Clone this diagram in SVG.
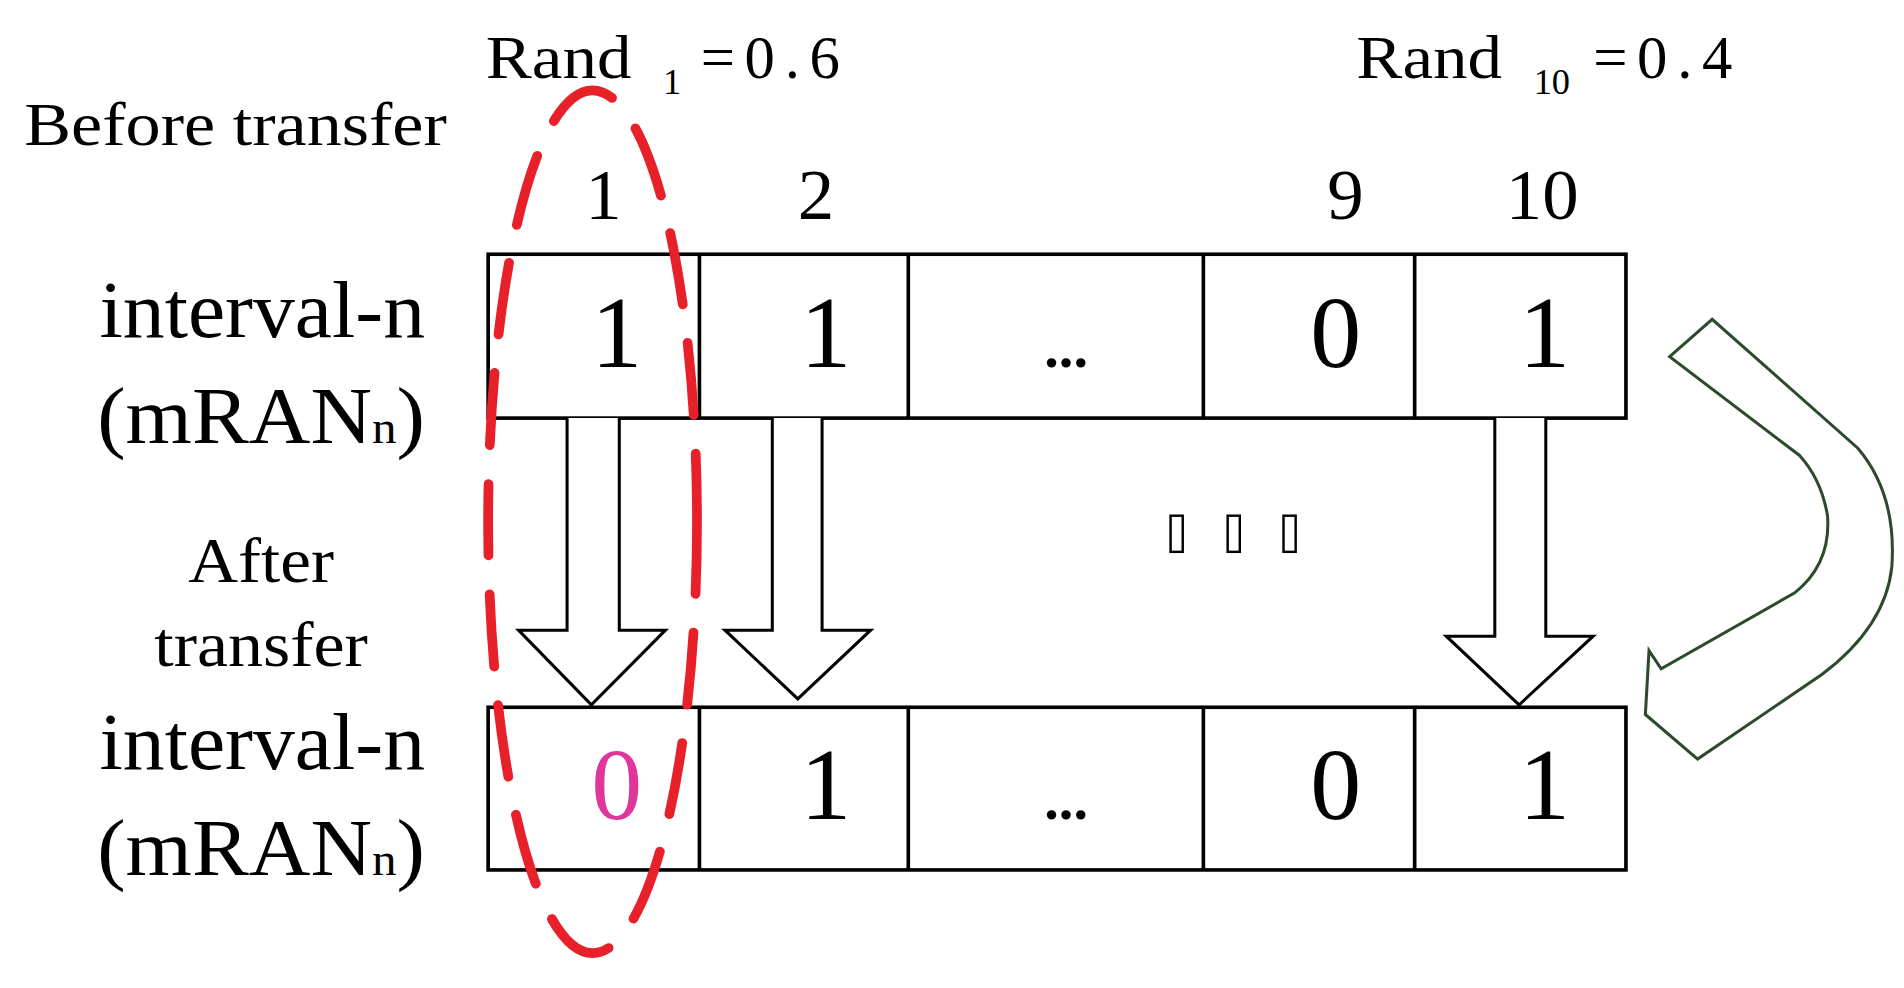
<svg xmlns="http://www.w3.org/2000/svg" width="1904" height="988" viewBox="0 0 1904 988">
<style>
.t{font-family:"Liberation Serif",serif;fill:#000}
.cell{fill:none;stroke:#000;stroke-width:3}
.blk{fill:#fff;stroke:#000;stroke-width:2.5}
</style>
<rect width="1904" height="988" fill="#fff"/>
<g transform="scale(1.2143,1.2049)">
<g id="labels">
<text class="t" x="20" y="120" font-size="50" textLength="348" lengthAdjust="spacingAndGlyphs">Before transfer</text>
<text class="t" x="155" y="483" font-size="52" textLength="120" lengthAdjust="spacingAndGlyphs">After</text>
<text class="t" x="127" y="553" font-size="52" textLength="176" lengthAdjust="spacingAndGlyphs">transfer</text>
<text class="t" x="82" y="280" font-size="66" textLength="268" lengthAdjust="spacingAndGlyphs">interval-n</text>
<text class="t" x="80" y="368" font-size="66" textLength="270" lengthAdjust="spacingAndGlyphs">(mRAN<tspan font-size="38">n</tspan>)</text>
<text class="t" x="82" y="638" font-size="66" textLength="268" lengthAdjust="spacingAndGlyphs">interval-n</text>
<text class="t" x="80" y="726" font-size="66" textLength="270" lengthAdjust="spacingAndGlyphs">(mRAN<tspan font-size="38">n</tspan>)</text>
<text class="t" x="400" y="65" font-size="50" textLength="120" lengthAdjust="spacingAndGlyphs">Rand</text>
<text class="t" x="546" y="78" font-size="30">1</text>
<text class="t" x="577" y="65" font-size="50" letter-spacing="8">=0.6</text>
<text class="t" x="1117" y="65" font-size="50" textLength="120" lengthAdjust="spacingAndGlyphs">Rand</text>
<text class="t" x="1263" y="78" font-size="30">10</text>
<text class="t" x="1312" y="65" font-size="50" letter-spacing="8">=0.4</text>
<text class="t" x="497" y="182" font-size="60" text-anchor="middle">1</text>
<text class="t" x="672" y="182" font-size="60" text-anchor="middle">2</text>
<text class="t" x="1108" y="182" font-size="60" text-anchor="middle">9</text>
<text class="t" x="1270" y="182" font-size="60" text-anchor="middle">10</text>
</g>
<g id="top-row">
<rect class="cell" x="402" y="211" width="937" height="136"/>
<line class="cell" x1="576" y1="211" x2="576" y2="347"/><line class="cell" x1="748" y1="211" x2="748" y2="347"/>
<line class="cell" x1="991" y1="211" x2="991" y2="347"/><line class="cell" x1="1165" y1="211" x2="1165" y2="347"/>
<text class="t" x="508" y="305" font-size="84" text-anchor="middle">1</text>
<text class="t" x="680" y="305" font-size="84" text-anchor="middle">1</text>
<text class="t" x="878" y="305" font-size="48" font-weight="bold" text-anchor="middle">...</text>
<text class="t" x="1100" y="305" font-size="84" text-anchor="middle">0</text>
<text class="t" x="1272" y="305" font-size="84" text-anchor="middle">1</text>
</g>
<g id="bottom-row">
<rect class="cell" x="402" y="587" width="937" height="135"/>
<line class="cell" x1="576" y1="587" x2="576" y2="722"/><line class="cell" x1="748" y1="587" x2="748" y2="722"/>
<line class="cell" x1="991" y1="587" x2="991" y2="722"/><line class="cell" x1="1165" y1="587" x2="1165" y2="722"/>
<text class="t" x="508" y="680" font-size="84" text-anchor="middle" style="fill:#e0359a">0</text>
<text class="t" x="680" y="680" font-size="84" text-anchor="middle">1</text>
<text class="t" x="878" y="680" font-size="48" font-weight="bold" text-anchor="middle">...</text>
<text class="t" x="1100" y="680" font-size="84" text-anchor="middle">0</text>
<text class="t" x="1272" y="680" font-size="84" text-anchor="middle">1</text>
</g>
<g id="connectors">
<path class="blk" d="M467,347 V523 H427 L487,585 L548,523 H510 V347"/>
<path class="blk" d="M636,347 V523 H597 L657,580 L717,523 H677 V347"/>
<path class="blk" d="M1231,347 V528 H1191 L1251,585 L1312,528 H1273 V347"/>
<path d="M1375,296 L1410,265 L1530,372 Q1562,410 1558,470 Q1553,520 1500,560 L1398,630 L1355,593 L1358,540 L1368,555 L1478,492 Q1508,468 1505,428 Q1500,398 1482,378 Z" fill="#fff" stroke="#2d4a2d" stroke-width="2.5"/>
<g fill="#fff" stroke="#000" stroke-width="2"><rect x="964" y="428" width="10" height="30"/><rect x="1011" y="428" width="10" height="30"/><rect x="1057" y="428" width="10" height="30"/></g>
</g>
<g id="highlight">
<ellipse cx="488" cy="433" rx="86" ry="358" fill="none" stroke="#e8202a" stroke-width="8" stroke-dasharray="60,32" stroke-linecap="round"/>
</g>
</g>
</svg>
